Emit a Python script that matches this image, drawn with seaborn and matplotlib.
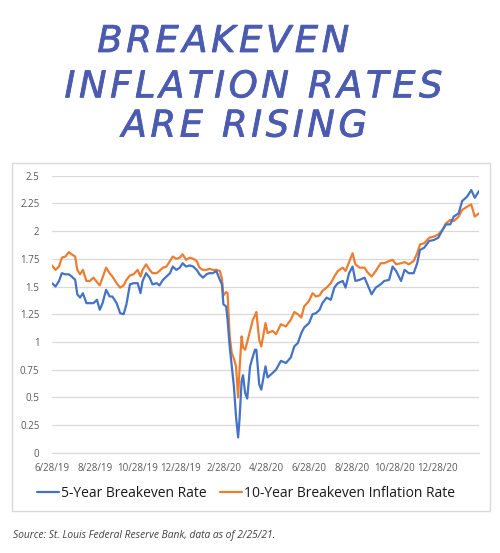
import pandas as pd
import matplotlib
matplotlib.use("Agg")
import matplotlib.pyplot as plt
import matplotlib.patheffects as pe
import seaborn as sns
from matplotlib.patches import Rectangle

# values (percent)
dates = [
    "2019-06-28", "2019-07-03", "2019-07-08", "2019-07-12", "2019-07-17", "2019-07-22", "2019-07-26",
    "2019-07-31", "2019-08-03", "2019-08-07", "2019-08-11", "2019-08-16", "2019-08-21", "2019-08-26",
    "2019-08-31", "2019-09-04", "2019-09-08", "2019-09-13", "2019-09-18", "2019-09-22", "2019-09-28",
    "2019-10-03", "2019-10-08", "2019-10-12", "2019-10-17", "2019-10-22", "2019-10-28", "2019-11-01",
    "2019-11-04", "2019-11-09", "2019-11-14", "2019-11-18", "2019-11-24", "2019-11-28", "2019-12-03",
    "2019-12-08", "2019-12-13", "2019-12-17", "2019-12-22", "2019-12-27", "2019-12-31",
    "2020-01-05", "2020-01-10", "2020-01-15", "2020-01-20", "2020-01-24", "2020-01-29", "2020-02-03",
    "2020-02-07", "2020-02-12", "2020-02-17", "2020-02-22", "2020-02-25", "2020-02-27", "2020-03-02",
    "2020-03-04", "2020-03-07", "2020-03-10", "2020-03-13", "2020-03-16", "2020-03-19", "2020-03-21",
    "2020-03-24", "2020-03-26", "2020-03-29", "2020-04-01", "2020-04-05", "2020-04-09", "2020-04-12",
    "2020-04-14", "2020-04-18", "2020-04-21", "2020-04-27", "2020-04-30", "2020-05-07", "2020-05-12",
    "2020-05-19", "2020-05-26", "2020-06-02", "2020-06-07", "2020-06-12", "2020-06-17", "2020-06-21",
    "2020-06-28", "2020-07-03", "2020-07-08", "2020-07-13", "2020-07-17", "2020-07-23", "2020-07-29",
    "2020-08-03", "2020-08-08", "2020-08-15", "2020-08-19", "2020-08-24", "2020-08-29", "2020-09-02",
    "2020-09-08", "2020-09-15", "2020-09-19", "2020-09-25", "2020-10-01", "2020-10-08", "2020-10-13",
    "2020-10-20", "2020-10-25", "2020-10-30", "2020-11-06", "2020-11-11", "2020-11-17", "2020-11-24",
    "2020-11-29", "2020-12-03", "2020-12-09", "2020-12-16", "2020-12-23", "2020-12-29",
    "2021-01-04", "2021-01-09", "2021-01-15", "2021-01-20", "2021-01-27", "2021-02-01", "2021-02-08",
    "2021-02-14", "2021-02-19", "2021-02-25",
]
five_year = [
    1.53, 1.50, 1.55, 1.62, 1.61, 1.61, 1.59,
    1.56, 1.43, 1.40, 1.44, 1.35, 1.35, 1.35,
    1.38, 1.29, 1.35, 1.47, 1.41, 1.41, 1.35,
    1.26, 1.25, 1.34, 1.52, 1.53, 1.53, 1.44,
    1.55, 1.62, 1.58, 1.52, 1.53, 1.51, 1.56,
    1.59, 1.62, 1.68, 1.65, 1.67, 1.71,
    1.68, 1.69, 1.68, 1.65, 1.61, 1.58, 1.61,
    1.62, 1.62, 1.64, 1.56, 1.52, 1.34, 1.32,
    1.20, 0.96, 0.78, 0.60, 0.33, 0.14, 0.30,
    0.65, 0.70, 0.54, 0.49, 0.78, 0.87, 0.93,
    0.93, 0.62, 0.57, 0.78, 0.68, 0.72, 0.75,
    0.83, 0.81, 0.86, 0.96, 0.99, 1.08, 1.13,
    1.17, 1.25, 1.26, 1.29, 1.35, 1.40, 1.38,
    1.49, 1.53, 1.55, 1.49, 1.62, 1.68, 1.55,
    1.56, 1.58, 1.52, 1.43, 1.49, 1.52, 1.55,
    1.56, 1.68, 1.64, 1.55, 1.65, 1.62, 1.62,
    1.71, 1.83, 1.85, 1.91, 1.92, 1.94,
    2.01, 2.06, 2.06, 2.13, 2.16, 2.27, 2.31,
    2.37, 2.30, 2.36,
]
ten_year = [
    1.69, 1.65, 1.68, 1.76, 1.77, 1.81, 1.79,
    1.77, 1.65, 1.61, 1.65, 1.55, 1.55, 1.58,
    1.54, 1.51, 1.58, 1.67, 1.62, 1.59, 1.53,
    1.49, 1.51, 1.56, 1.60, 1.61, 1.65, 1.59,
    1.65, 1.70, 1.65, 1.62, 1.62, 1.64, 1.67,
    1.68, 1.73, 1.77, 1.75, 1.76, 1.79,
    1.74, 1.76, 1.75, 1.73, 1.67, 1.65, 1.65,
    1.66, 1.65, 1.65, 1.64, 1.57, 1.42, 1.45,
    1.44, 1.05, 0.90, 0.85, 0.78, 0.50, 0.75,
    1.05, 0.95, 0.93, 1.00, 1.10, 1.20, 1.24,
    1.27, 1.02, 0.96, 1.17, 1.08, 1.10, 1.07,
    1.16, 1.14, 1.20, 1.27, 1.25, 1.22, 1.32,
    1.37, 1.44, 1.41, 1.42, 1.46, 1.49, 1.53,
    1.59, 1.64, 1.67, 1.64, 1.72, 1.80, 1.70,
    1.67, 1.67, 1.63, 1.59, 1.64, 1.71, 1.71,
    1.73, 1.74, 1.70, 1.71, 1.72, 1.70, 1.73,
    1.80, 1.88, 1.89, 1.94, 1.95, 1.97,
    2.01, 2.07, 2.10, 2.09, 2.13, 2.19, 2.22,
    2.24, 2.13, 2.16,
]

tick_dates = ["2019-06-28", "2019-08-28", "2019-10-28", "2019-12-28", "2020-02-28",
              "2020-04-28", "2020-06-28", "2020-08-28", "2020-10-28", "2020-12-28"]
tick_labels = ["6/28/19", "8/28/19", "10/28/19", "12/28/19", "2/28/20",
               "4/28/20", "6/28/20", "8/28/20", "10/28/20", "12/28/20"]
y_ticks = [0, 0.25, 0.5, 0.75, 1, 1.25, 1.5, 1.75, 2, 2.25, 2.5]
y_labels = ["0", "0.25", "0.5", "0.75", "1", "1.25", "1.5", "1.75", "2", "2.25", "2.5"]

df = pd.DataFrame({"date": pd.to_datetime(dates), "five": five_year, "ten": ten_year})

sns.set_style("white")
plt.rcParams["font.family"] = ["Open Sans", "DejaVu Sans"]

fig = plt.figure(figsize=(5, 5.53), dpi=100)

# chart frame
fig.patches.append(Rectangle((0.024, 0.0755), 0.956, 0.629, transform=fig.transFigure,
                             fill=False, edgecolor="#d9d9d9", linewidth=1))

ax = fig.add_axes([0.104, 0.181, 0.854, 0.5015])
sns.lineplot(data=df, x="date", y="five", ax=ax, color="#4472C4", linewidth=1.6,
             label="5-Year Breakeven Rate")
sns.lineplot(data=df, x="date", y="ten", ax=ax, color="#ED7D31", linewidth=1.6,
             label="10-Year Breakeven Inflation Rate")
# 5-year on top
ax.lines[0].set_zorder(3)

ax.set_xlim(pd.Timestamp(dates[0]), pd.Timestamp(dates[-1]))
ax.set_ylim(0, 2.5)
ax.set_xticks(pd.to_datetime(tick_dates))
ax.set_xticklabels(tick_labels)
ax.set_yticks(y_ticks)
ax.set_yticklabels(y_labels)
ax.set_xlabel("")
ax.set_ylabel("")
ax.grid(True, axis="y", color="#d9d9d9", linewidth=0.9)
ax.set_axisbelow(True)
for side in ["top", "right", "left"]:
    ax.spines[side].set_visible(False)
ax.spines["bottom"].set_color("#d9d9d9")
ax.tick_params(axis="x", colors="#595959", labelsize=7, length=4, width=0.8, pad=3,
               color="#d9d9d9")
ax.tick_params(axis="y", colors="#595959", labelsize=7, length=0, pad=9)

handles, labels = ax.get_legend_handles_labels()
ax.get_legend().remove()
fig.legend(handles, labels, loc="center", bbox_to_anchor=(0.492, 0.108), ncol=2,
           frameon=False, fontsize=10, handlelength=1.6, handletextpad=0.1,
           columnspacing=1.0, labelcolor="#1a1a1a")

# handwritten-style title
title_lines = ["BREAKEVEN", "INFLATION RATES", "ARE RISING"]
title_x = [0.446, 0.506, 0.488]
title_y = [0.925, 0.843, 0.772]
for txt, tx, ty in zip(title_lines, title_x, title_y):
    spaced = "\u200a".join(txt)
    fig.text(tx, ty, spaced, ha="center", va="center", fontsize=26.5, color="#4b5bb0",
             family="DejaVu Sans", style="oblique",
             path_effects=[pe.withStroke(linewidth=0.6, foreground="#4b5bb0")])

fig.text(0.026, 0.031, "Source: St. Louis Federal Reserve Bank, data as of 2/25/21.",
         fontsize=7.4, style="italic", color="#404040", ha="left", va="center")

fig.savefig("out.png", dpi=100)
